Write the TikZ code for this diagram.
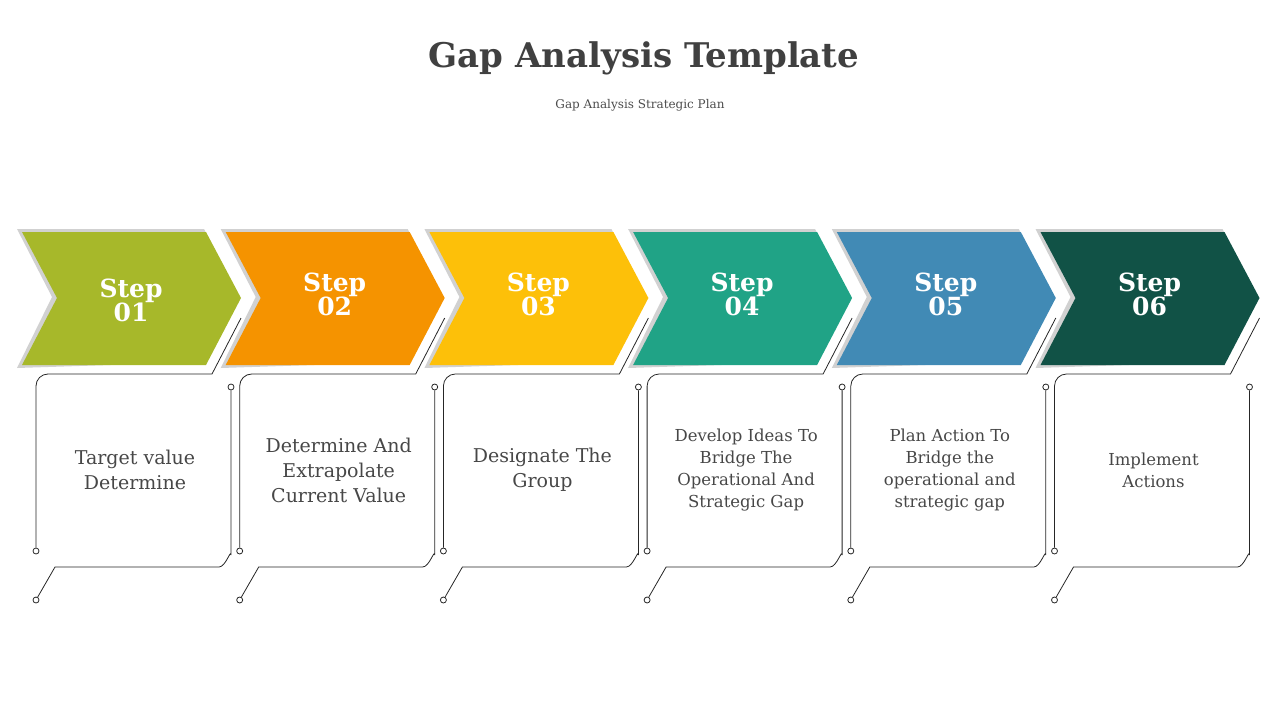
\documentclass[tikz,border=0pt]{standalone}
\usepackage{fontspec}
\setmainfont{DejaVu Serif}
\begin{document}
\begin{tikzpicture}[x=1pt,y=-1pt,
  ln/.style={draw=black!85,line width=0.8pt},
  dot/.style={circle,draw=black!85,fill=white,line width=0.8pt,inner sep=0pt,minimum size=6pt},
  steptxt/.style={text=white,font=\bfseries\fontsize{25}{30}\selectfont,align=center},
  bodytxt/.style={text=black!72,align=center}]
\useasboundingbox (0,0) rectangle (1280,720);
\node (title) at (644,58) {\bfseries\color{black!75}\fontsize{34}{40}\selectfont Gap Analysis Template};
\node (sub) at (640,105) {\color{black!70}\fontsize{12}{14}\selectfont Gap Analysis Strategic Plan};
\definecolor{c1}{HTML}{A7B82A}\definecolor{c2}{HTML}{F59300}\definecolor{c3}{HTML}{FDC009}
\definecolor{c4}{HTML}{20A386}\definecolor{c5}{HTML}{418AB5}\definecolor{c6}{HTML}{115246}
\foreach \k/\col/\ty/\txt/\fs/\bs in {
 1/c1/285/{Target value\\Determine}/19/25,
 2/c2/279/{Determine And\\Extrapolate\\Current Value}/19/25,
 3/c3/279/{Designate The\\Group}/19/25,
 4/c4/279/{Develop Ideas To\\Bridge The\\Operational And\\Strategic Gap}/16.5/22,
 5/c5/279/{Plan Action To\\Bridge the\\operational and\\strategic gap}/16.5/22,
 6/c6/279/{Implement\\Actions}/16.5/22}{
 \pgfmathsetmacro{\sx}{203.7*(\k-1)}
 \begin{scope}[xshift=\sx pt]
  \fill[black!18] (17,229) -- (204,229) -- (238,296) -- (204,362) -- (17,368) -- (52,297) -- cycle;
  \fill[\col] (22,232) -- (206,232) -- (241,298) -- (206,365) -- (22,365) -- (57,298) -- cycle;
  \node[steptxt] (s\k) at (131,\ty+15) {Step\\[-6pt]0\k};
  \coordinate (a\k) at (241,318);
  \node[dot] (d\k) at (36,551) {};
  \draw[ln] (a\k) -- (212,374) -- (48,374) to[out=180,in=90] (36,386) -- (d\k);
  \node[dot] (e\k) at (231,387) {};
  \node[dot] (f\k) at (36,600) {};
  \draw[ln] (e\k) -- (231,555) to[out=90,in=0] (219,567) -- (55,567) -- (f\k);
  \node[bodytxt,font=\fontsize{\fs}{\bs}\selectfont] (b\k) at (135,470) {\txt};
 \end{scope}}
\end{tikzpicture}
\end{document}
